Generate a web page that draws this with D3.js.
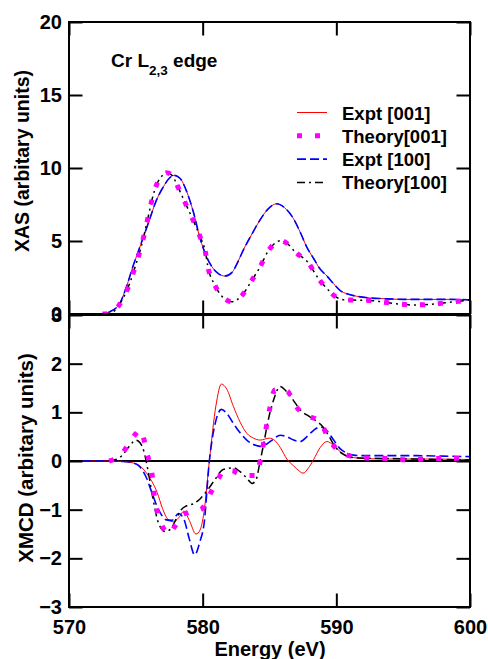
<!DOCTYPE html>
<html>
<head>
<meta charset="utf-8">
<script src="https://cdn.jsdelivr.net/npm/d3@7"></script>
<style>
	body { margin: 0; background: #fff; }
	svg text { font-family: "Liberation Sans", Arial, Helvetica, sans-serif; font-weight: bold; fill: #000; }
</style>
</head>
<body>
<svg id="cr-edge-chart"></svg>
<script>
// tick values
var energyTicks = [570, 580, 590, 600];
var xasTicks = [0, 5, 10, 15, 20];
var xmcdTicks = [-3, -2, -1, 0, 1, 2, 3];
var seriesNames = ["Expt [001]", "Theory[001]", "Expt [100]", "Theory[100]"];

// XAS, [energy, intensity]
var xasExpt001 = [[572.0, 0], [572.5, 0.02], [573.07, 0.16], [573.8, 0.73], [574.3, 1.87], [574.8, 3.3], [575.4, 4.84],
	[576.0, 6.4], [576.5, 7.7], [577.05, 8.7], [577.5, 9.3], [577.85, 9.5], [578.3, 9.3], [578.8, 8.4], [579.3, 7.0],
	[579.8, 5.2], [580.3, 3.9], [580.8, 3.1], [581.2, 2.75], [581.67, 2.6], [582.2, 2.85], [582.6, 3.5], [583.04, 4.38],
	[583.7, 5.5], [584.29, 6.44], [584.9, 7.2], [585.53, 7.55], [586.1, 7.3], [586.78, 6.55], [587.3, 5.6], [587.78, 4.6],
	[588.3, 3.8], [588.77, 3.1], [589.3, 2.6], [589.77, 2.1], [590.3, 1.6], [590.8, 1.38], [591.5, 1.22], [592.5, 1.1],
	[593.5, 1.05], [595.0, 1.0], [597.0, 1.0], [598.5, 1.0], [600.0, 0.97]];
var xasTheory001 = [[572.5, 0], [573.1, 0.05], [573.5, 0.3], [573.9, 0.84], [574.5, 2.0], [574.9, 3.1], [575.4, 4.6],
	[575.9, 6.55], [576.2, 7.8], [576.6, 8.95], [577.0, 9.5], [577.3, 9.68], [577.7, 9.5], [578.2, 8.6], [578.7, 7.6],
	[579.3, 6.4], [579.8, 5.3], [580.2, 4.27], [580.4, 3.2], [580.9, 2.0], [581.4, 1.25], [581.8, 0.95], [582.17, 0.84],
	[582.9, 1.23], [583.66, 2.28], [584.3, 3.24], [584.9, 4.31], [585.4, 4.85], [585.86, 5.03], [586.3, 4.85],
	[586.9, 4.27], [587.9, 3.51], [588.6, 2.51], [589.4, 1.64], [590.0, 1.15], [590.5, 0.98], [591.5, 0.95],
	[592.5, 0.93], [593.5, 0.82], [594.5, 0.7], [595.7, 0.62], [597.0, 0.66], [598.3, 0.78], [599.2, 0.88], [600.0, 0.95]];
var xasExpt100 = [[572.0, 0], [572.5, 0.02], [573.07, 0.16], [573.8, 0.73], [574.3, 1.87], [574.8, 3.3], [575.4, 4.84],
	[576.0, 6.4], [576.5, 7.7], [577.05, 8.7], [577.5, 9.3], [577.85, 9.5], [578.3, 9.3], [578.8, 8.4], [579.3, 7.0],
	[579.8, 5.2], [580.3, 3.9], [580.8, 3.1], [581.2, 2.75], [581.67, 2.6], [582.2, 2.85], [582.6, 3.5], [583.04, 4.38],
	[583.7, 5.5], [584.29, 6.44], [584.9, 7.2], [585.53, 7.55], [586.1, 7.3], [586.78, 6.55], [587.3, 5.6], [587.78, 4.6],
	[588.3, 3.8], [588.77, 3.1], [589.3, 2.6], [589.77, 2.1], [590.3, 1.6], [590.8, 1.38], [591.5, 1.22], [592.5, 1.1],
	[593.5, 1.05], [595.0, 1.0], [597.0, 1.0], [598.5, 1.0], [600.0, 0.97]];
var xasTheory100 = [[572.5, 0], [573.1, 0.05], [573.5, 0.3], [573.9, 0.84], [574.5, 2.0], [574.9, 3.1], [575.4, 4.6],
	[575.9, 6.55], [576.2, 7.8], [576.6, 8.95], [577.0, 9.5], [577.3, 9.68], [577.7, 9.5], [578.2, 8.6], [578.7, 7.6],
	[579.3, 6.4], [579.8, 5.3], [580.2, 4.27], [580.4, 3.2], [580.9, 2.0], [581.4, 1.25], [581.8, 0.95], [582.17, 0.84],
	[582.9, 1.23], [583.66, 2.28], [584.3, 3.24], [584.9, 4.31], [585.4, 4.85], [585.86, 5.03], [586.3, 4.85],
	[586.9, 4.27], [587.9, 3.51], [588.6, 2.51], [589.4, 1.64], [590.0, 1.15], [590.5, 0.98], [591.5, 0.95],
	[592.5, 0.93], [593.5, 0.82], [594.5, 0.7], [595.7, 0.62], [597.0, 0.66], [598.3, 0.78], [599.2, 0.88], [600.0, 0.95]];

// XMCD, [energy, intensity]
var xmcdExpt001 = [[571.0, 0], [573.0, 0], [574.0, -0.01], [574.8, -0.04], [575.3, -0.1], [575.8, -0.25], [576.2, -0.42],
	[576.6, -0.65], [577.0, -0.98], [577.4, -1.2], [577.8, -1.25], [578.2, -1.17], [578.6, -1.03], [579.0, -1.22],
	[579.5, -1.5], [579.8, -1.42], [580.1, -1.05], [580.5, 0.0], [581.0, 1.15], [581.4, 1.58], [581.8, 1.48],
	[582.3, 1.12], [582.8, 0.8], [583.3, 0.57], [583.8, 0.47], [584.3, 0.43], [585.0, 0.47], [585.4, 0.42],
	[585.8, 0.28], [586.3, 0.04], [586.8, -0.1], [587.2, -0.2], [587.5, -0.25], [587.9, -0.15], [588.3, 0.03],
	[588.8, 0.28], [589.3, 0.4], [589.8, 0.32], [590.3, 0.19], [590.8, 0.11], [591.3, 0.07], [592.0, 0.05],
	[594.0, 0.04], [597.0, 0.04], [600.0, 0.03]];
var xmcdTheory001 = [[573.0, 0], [573.5, 0.05], [574.0, 0.16], [574.4, 0.33], [575.0, 0.56], [575.3, 0.64],
	[575.6, 0.45], [575.8, 0.19], [576.2, -0.25], [576.4, -0.75], [576.7, -1.13], [577.1, -1.4], [577.45, -1.5],
	[577.9, -1.35], [578.4, -1.13], [578.9, -1.06], [579.9, -0.99], [580.7, -0.6], [581.2, -0.35], [581.6, -0.2],
	[582.2, -0.2], [582.6, -0.25], [583.0, -0.29], [583.5, -0.3], [584.0, -0.3], [584.4, 0.14], [585.0, 1.05],
	[585.4, 1.46], [585.9, 1.48], [586.4, 1.42], [586.8, 1.2], [587.2, 1.05], [587.9, 0.92], [588.6, 0.84],
	[589.0, 0.7], [589.4, 0.47], [589.9, 0.28], [590.4, 0.16], [590.8, 0.12], [591.5, 0.08], [592.5, 0.06],
	[594.0, 0.05], [595.5, 0.02], [597.0, 0.05], [598.5, 0.05], [600.0, 0.06]];
var xmcdExpt100 = [[571.0, 0], [573.0, 0], [574.0, -0.01], [574.8, -0.04], [575.3, -0.12], [575.8, -0.35], [576.2, -0.65],
	[576.7, -1.0], [577.3, -1.21], [577.7, -1.22], [578.2, -1.08], [578.6, -1.2], [579.0, -1.6], [579.4, -1.93],
	[579.8, -1.65], [580.1, -1.3], [580.5, 0.0], [581.0, 0.84], [581.4, 1.06], [581.8, 0.98], [582.3, 0.77],
	[582.8, 0.58], [583.3, 0.43], [583.8, 0.34], [584.3, 0.3], [584.8, 0.35], [585.3, 0.45], [585.8, 0.53],
	[586.3, 0.5], [586.8, 0.43], [587.3, 0.4], [587.8, 0.5], [588.3, 0.63], [588.8, 0.7], [589.3, 0.62],
	[589.8, 0.43], [590.3, 0.25], [590.8, 0.16], [591.3, 0.12], [592.0, 0.11], [594.0, 0.11], [596.0, 0.11],
	[598.0, 0.1], [600.0, 0.09]];
var xmcdTheory100 = [[573.0, 0], [573.5, 0.03], [574.0, 0.12], [574.5, 0.3], [575.0, 0.43], [575.3, 0.38],
	[575.6, 0.2], [575.9, -0.18], [576.3, -0.8], [576.7, -1.28], [577.2, -1.45], [577.6, -1.4], [578.0, -1.2],
	[578.4, -1.0], [578.8, -0.92], [579.3, -0.88], [579.8, -0.78], [580.3, -0.62], [580.9, -0.39], [581.5, -0.18],
	[582.3, -0.14], [582.8, -0.22], [583.3, -0.35], [583.7, -0.46], [584.0, -0.38], [584.3, 0.0], [584.6, 0.4],
	[584.8, 0.7], [585.3, 1.25], [585.8, 1.53], [586.2, 1.45], [586.7, 1.28], [587.3, 1.05], [588.0, 0.91],
	[588.6, 0.8], [589.0, 0.7], [589.4, 0.53], [590.0, 0.26], [590.5, 0.14], [591.0, 0.08], [592.0, 0.06],
	[594.0, 0.05], [596.0, 0.04], [598.0, 0.03], [600.0, 0.02]];

var styles = [
	{color: "#ff0000", width: 1, dash: null},
	{color: "#ff00ff", width: 5, dash: "5,13"},
	{color: "#0000ff", width: 1.6, dash: "9,4"},
	{color: "#000000", width: 1.5, dash: "8,4,2,4"}
];

var W = 488, H = 659;
var svg = d3.select("svg#cr-edge-chart").attr("width", W).attr("height", H);

var x = d3.scaleLinear().domain([570, 600]).range([69, 470]);
var yTop = d3.scaleLinear().domain([0, 20]).range([314, 22]);
var yBot = d3.scaleLinear().domain([-3, 3]).range([607, 315]);

var panels = [
	{id: "xas", y: yTop, ticks: xasTicks, series: [xasExpt001, xasTheory001, xasExpt100, xasTheory100]},
	{id: "xmcd", y: yBot, ticks: xmcdTicks, series: [xmcdExpt001, xmcdTheory001, xmcdExpt100, xmcdTheory100]}
];

// draw order: red, blue, black, magenta on top
var drawOrder = [0, 2, 3, 1];

panels.forEach(function (p) {
	var y0 = p.y.range()[1], y1 = p.y.range()[0];

	svg.append("clipPath").attr("id", "clip-" + p.id)
		.append("rect").attr("x", x(570)).attr("y", y0).attr("width", x(600) - x(570)).attr("height", y1 - y0);

	if (p.id === "xmcd") {
		svg.append("line")
			.attr("x1", x(570)).attr("x2", x(600))
			.attr("y1", p.y(0)).attr("y2", p.y(0))
			.attr("stroke", "#000").attr("stroke-width", 2);
	}

	var line = d3.line()
		.x(function (d) { return x(d[0]); })
		.y(function (d) { return p.y(d[1]); })
		.curve(d3.curveMonotoneX);

	var g = svg.append("g").attr("clip-path", "url(#clip-" + p.id + ")");
	drawOrder.forEach(function (i) {
		g.append("path")
			.datum(p.series[i])
			.attr("d", line)
			.attr("fill", "none")
			.attr("stroke", styles[i].color)
			.attr("stroke-width", styles[i].width)
			.attr("stroke-dasharray", styles[i].dash);
	});

	// inward ticks on all four sides
	var left = svg.append("g").attr("transform", "translate(" + x(570) + ",0)")
		.call(d3.axisLeft(p.y).tickValues(p.ticks).tickSizeInner(-13.5).tickSizeOuter(0).tickPadding(7)
			.tickFormat(d3.format("d")));
	svg.append("g").attr("transform", "translate(" + x(600) + ",0)")
		.call(d3.axisRight(p.y).tickValues(p.ticks).tickSizeInner(-13.5).tickSizeOuter(0).tickFormat(""));
	svg.append("g").attr("transform", "translate(0," + y0 + ")")
		.call(d3.axisTop(x).tickValues(energyTicks).tickSizeInner(-13.5).tickSizeOuter(0).tickFormat(""));
	var bottom = svg.append("g").attr("transform", "translate(0," + y1 + ")")
		.call(d3.axisBottom(x).tickValues(energyTicks).tickSizeInner(-13.5).tickSizeOuter(0).tickPadding(13)
			.tickFormat(p.id === "xmcd" ? d3.format("d") : ""));

	svg.selectAll(".domain").remove();
	left.selectAll("text").style("font-size", "20px");
	bottom.selectAll("text").style("font-size", "20px");

	svg.append("rect")
		.attr("x", x(570)).attr("y", y0)
		.attr("width", x(600) - x(570)).attr("height", y1 - y0)
		.attr("fill", "none").attr("stroke", "#000").attr("stroke-width", 2);
});

svg.selectAll(".tick line").attr("stroke-width", 2);
svg.selectAll(".tick text").attr("fill", "#000");

// axis titles
svg.append("text")
	.attr("transform", "translate(29," + 161 + ")rotate(-90)")
	.attr("text-anchor", "middle")
	.style("font-size", "19.5px")
	.text("XAS (arbitary units)");
svg.append("text")
	.attr("transform", "translate(33," + 458 + ")rotate(-90)")
	.attr("text-anchor", "middle")
	.style("font-size", "20.5px")
	.text("XMCD (arbitary units)");
svg.append("text")
	.attr("x", 270).attr("y", 656)
	.attr("text-anchor", "middle")
	.style("font-size", "20px")
	.text("Energy (eV)");

// panel annotation
var note = svg.append("text").attr("x", 111).attr("y", 66.5).style("font-size", "19px");
note.append("tspan").text("Cr L");
note.append("tspan").attr("dy", 8).style("font-size", "13.5px").text("2,3");
note.append("tspan").attr("dy", -8).text(" edge");

// legend
var legend = svg.append("g").attr("class", "legend");
seriesNames.forEach(function (name, i) {
	var by = 119.5 + i * 23.3;
	legend.append("line")
		.attr("x1", 297).attr("x2", 327)
		.attr("y1", by - 7).attr("y2", by - 7)
		.attr("stroke", styles[i].color)
		.attr("stroke-width", styles[i].width)
		.attr("stroke-dasharray", styles[i].dash);
	legend.append("text")
		.attr("x", 342).attr("y", by)
		.style("font-size", "18.5px")
		.text(name);
});
</script>
</body>
</html>
